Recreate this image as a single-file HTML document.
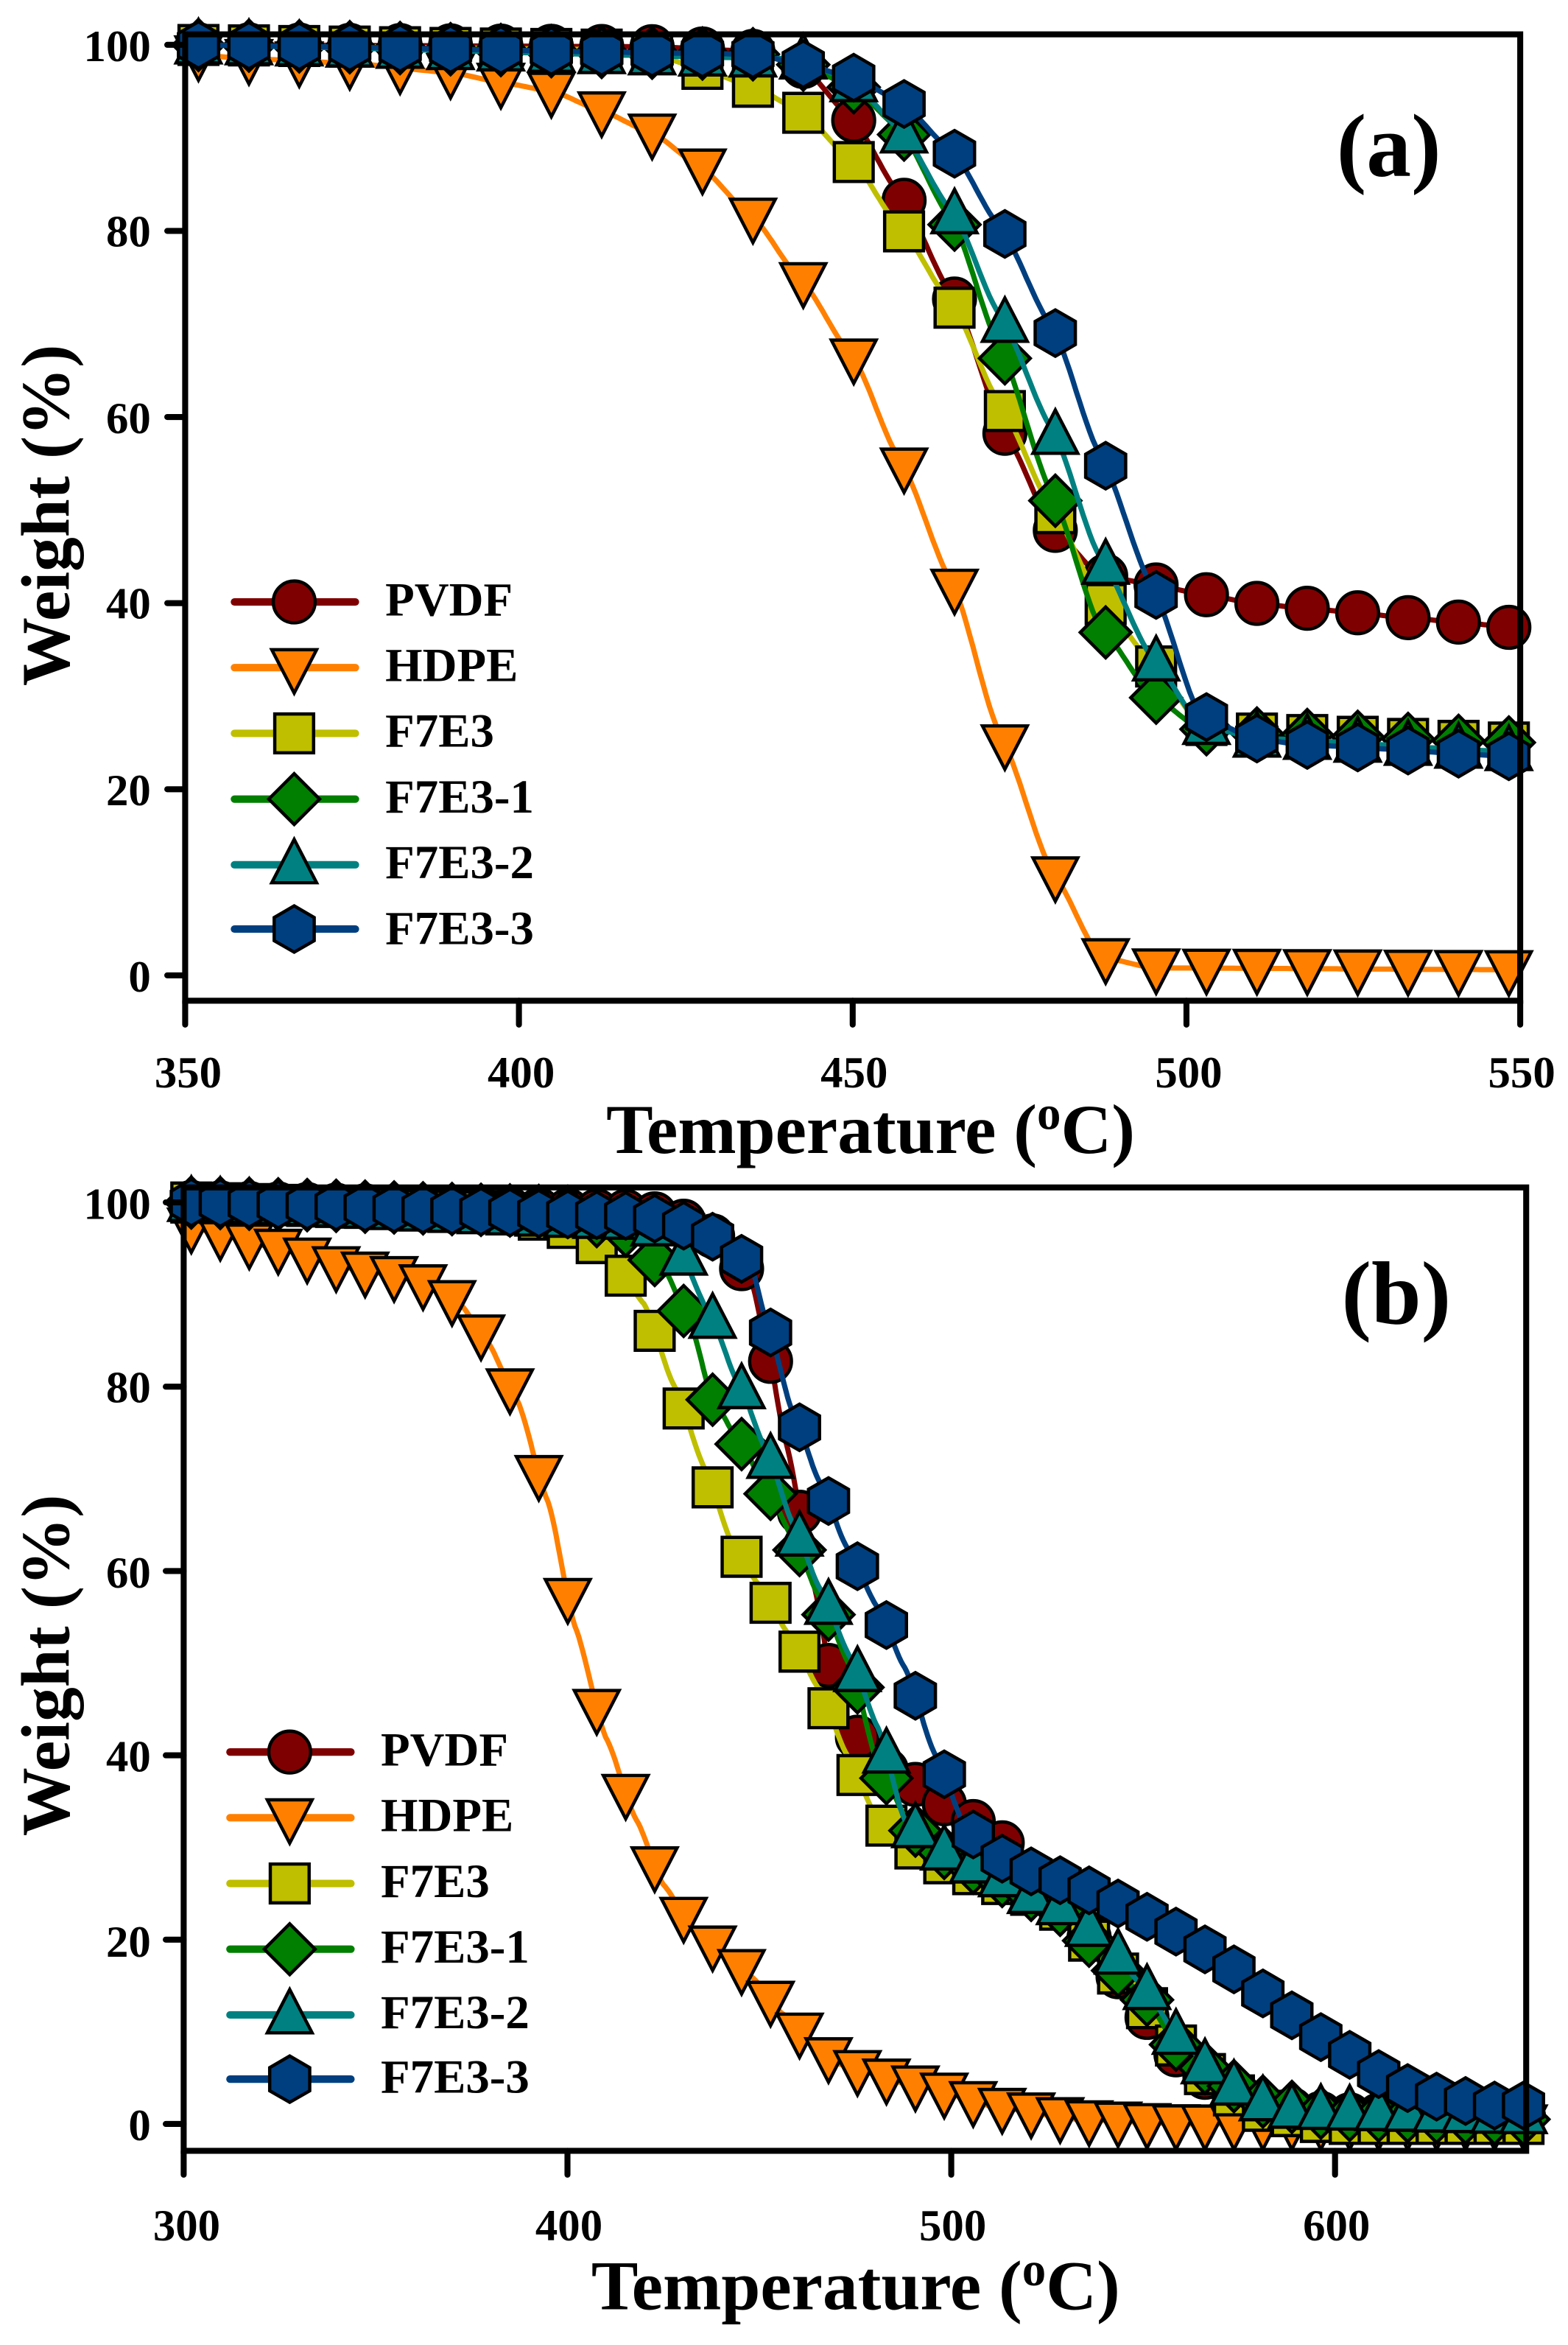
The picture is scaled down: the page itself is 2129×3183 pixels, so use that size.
<!DOCTYPE html>
<html><head><meta charset="utf-8"><style>
html,body{margin:0;padding:0;background:#fff;}
svg{display:block;}
text{font-family:"Liberation Serif",serif;font-weight:bold;fill:#000;}
</style></head><body>
<svg id="s" xmlns="http://www.w3.org/2000/svg" width="2129" height="3183" viewBox="0 0 1050 1570" preserveAspectRatio="none">
<rect width="1050" height="1570" fill="#fff"/>
<g id="ga"></g>
<g id="gb"></g>
<g stroke="#000" stroke-width="4" fill="none" stroke-linecap="round">
<rect x="124" y="23" width="894" height="647"/>
<path d="M124 30h-12M124 154.6h-12M124 279.2h-12M124 403.8h-12M124 528.4h-12M124 653h-12"/>
<path d="M124 670v16M347.5 670v16M571 670v16M794.5 670v16M1018 670v16"/>
<rect x="123" y="795" width="899" height="645"/>
<path d="M123 805h-12M123 928.4h-12M123 1051.8h-12M123 1175.2h-12M123 1298.6h-12M123 1422h-12"/>
<path d="M123 1440v16M380 1440v16M637 1440v16M894 1440v16"/>
</g>
<g font-size="30" text-anchor="end">
<text x="101" y="41">100</text><text x="101" y="165">80</text><text x="101" y="290">60</text><text x="101" y="414">40</text><text x="101" y="539">20</text><text x="101" y="664">0</text>
<text x="101" y="816">100</text><text x="101" y="939">80</text><text x="101" y="1063">60</text><text x="101" y="1186">40</text><text x="101" y="1310">20</text><text x="101" y="1433">0</text>
</g>
<g font-size="30" text-anchor="middle">
<text x="126" y="728">350</text><text x="349" y="728">400</text><text x="572" y="728">450</text><text x="796" y="728">500</text><text x="1019" y="728">550</text>
<text x="125" y="1500">300</text><text x="381" y="1500">400</text><text x="638" y="1500">500</text><text x="895" y="1500">600</text>
</g>
<text x="583" y="772" font-size="47" text-anchor="middle">Temperature (<tspan font-size="32" dy="-16">o</tspan><tspan dy="16">C)</tspan></text>
<text x="573" y="1546" font-size="47" text-anchor="middle">Temperature (<tspan font-size="32" dy="-16">o</tspan><tspan dy="16">C)</tspan></text>
<text transform="translate(46,345) rotate(-90)" font-size="46" text-anchor="middle">Weight (%)</text>
<text transform="translate(46,1115) rotate(-90)" font-size="46" text-anchor="middle">Weight (%)</text>
<text x="930" y="118" font-size="60" text-anchor="middle">(a)</text>
<text x="935" y="886" font-size="60" text-anchor="middle">(b)</text>
<g id="leg"></g>
<g font-size="32">
<text x="258" y="412">PVDF</text><text x="258" y="456">HDPE</text><text x="258" y="500">F7E3</text><text x="258" y="544">F7E3-1</text><text x="258" y="588">F7E3-2</text><text x="258" y="632">F7E3-3</text>
<text x="255" y="1182">PVDF</text><text x="255" y="1226">HDPE</text><text x="255" y="1270">F7E3</text><text x="255" y="1314">F7E3-1</text><text x="255" y="1358">F7E3-2</text><text x="255" y="1401">F7E3-3</text>
</g>
</svg>
<script>
var NS="http://www.w3.org/2000/svg";
var cols=[["#7F0000","circle"],["#FF8000","tdown"],["#BFBF00","square"],["#007F00","diamond"],["#008080","tup"],["#003F7F","hex"]];
function mk(tag,attrs,parent){var e=document.createElementNS(NS,tag);for(var k in attrs)e.setAttribute(k,attrs[k]);parent.appendChild(e);return e;}
function marker(g,shape,x,y,fill){
 var a={fill:fill,stroke:"#000","stroke-width":2.2,"stroke-linejoin":"miter"};
 if(shape=="circle"){a.cx=x;a.cy=y;a.r=14;mk("circle",a,g);return;}
 var p;
 if(shape=="square")p=[[-13,-13],[13,-13],[13,13],[-13,13]];
 else if(shape=="tdown")p=[[-15,-12],[15,-12],[0,17]];
 else if(shape=="tup")p=[[-15,12],[15,12],[0,-17]];
 else if(shape=="diamond")p=[[0,-17],[17,0],[0,17],[-17,0]];
 else {p=[];for(var i=0;i<6;i++){var t=Math.PI/3*i-Math.PI/2;p.push([15.5*Math.cos(t),15.5*Math.sin(t)]);}}
 a.points=p.map(function(q){return (x+q[0]).toFixed(1)+","+(y+q[1]).toFixed(1);}).join(" ");
 mk("polygon",a,g);
}
function interp(k,T){if(T<=k[0][0])return k[0][1];for(var i=1;i<k.length;i++){if(T<=k[i][0]){var a=k[i-1],b=k[i];var u=(T-a[0])/(b[0]-a[0]);u=u*u*(3-2*u)*0.35+u*0.65;return a[1]+(b[1]-a[1])*u;}}return k[k.length-1][1];}
function P(s){return s.trim().split(/\s*,\s*/).map(function(t){var q=t.split(":");return [+q[0],+q[1]];});}
var A=[
P("352:100,420:99.8,435:99.3,442:98,450:92,457:84,465:73,473:58,480:48,487:43,495:42,502:41,510:40,517:39.5,525:39,532:38.5,540:38,550:37.3"),
P("350:99,360:98.5,375:98,390:97,397:96,405:95,412:93,420:90.5,427:87,435:81.5,442:75,450:66.5,457:55.5,465:42,472:26,480:11,487:2,495:0.8,550:0.6"),
P("350:100,412:99.5,420:99,427:97.5,435:95.5,442:93,450:87.5,457:80.5,465:72,472:61.5,480:50,487:40.5,495:33.5,502:27,510:26,550:25"),
P("350:100,435:99,442:98,450:95.5,457:91,465:81,472:67.5,480:51.5,487:37.5,495:30,502:26.5,510:26,550:25"),
P("350:100,442:98.5,450:96,457:91,465:82,472:71,480:58.5,487:45,495:34,502:27,510:25.5,550:24"),
P("350:100,435:99,442:98,450:96.5,457:94,465:88.5,472:80.5,480:69.5,487:56,495:41.5,502:28,510:25.5,517:24.8,550:23.5")];
var B=[
P("300:100,420:99,430:98,440:96,448:91.5,452:84.5,457:74,464:59,470:46,480:39,490:37,497:35,505:33,512:31,520:27.5,530:24,540:18,550:12,560:7,570:4,580:2,600:1,650:0.8"),
P("300:97.5,310:96.5,318:95.5,325:95,333:94,341:93,348:92.5,356:92,364:91,372:89,379:85,387:78.5,395:67.5,402:54,410:42,418:33,425:26,433:21,441:18.5,448:16,456:12,464:8.5,471:6.5,479:5.5,487:4.5,494:4,502:3,510:2,518:1.5,525:1,533:0.5,560:0,650:0"),
P("300:100,380:99,395:98,405:96.5,412:94,420:89,428:80,436:71,443:63,450:58.5,458:53,466:47,473:40,481:33,490:30,500:28,510:26.5,520:25,530:23,540:18,550:13,560:8,570:4,580:1.5,600:0,650:0"),
P("300:100,400:99,415:97,425:93,432:87,438:78.5,445:74,452:69,459:63.5,466:57,474:49.5,481:39,490:32,500:29,510:27,520:25,530:23,540:18,550:14,560:8,570:5,580:2.5,600:1,650:0.5"),
P("300:100,420:98,428:96,437:88,445:80,452:73,459:65,466:58,474:50.5,481:43,488:33,496:30,504:28.5,512:27,520:25,530:23.5,540:20,550:15,560:9,570:5,580:2.5,590:1.5,650:1"),
P("300:100,420:98.5,430:97.5,440:96,448:93,452:87,459:77,466:69.5,473:62.5,481:56,488:49.5,496:40,504:32,512:29,520:27.5,528:26.5,535:25.5,543:24,551:22.5,558:21,566:19,573:17,580:14.5,588:12,596:9.5,604:7.5,611:5.5,618:4,626:3,634:2.5,641:2,650:2")];
function panel(g,data,t0,t1,x0,x1,y100,y0,ms,me,step){
 function X(t){return x0+(t-t0)/(t1-t0)*(x1-x0);} function Y(w){return y0+(y100-y0)*w/100;}
 for(var s=0;s<6;s++){
  var pts=[];for(var t=t0;t<=t1+0.01;t+=0.5)pts.push(X(t).toFixed(1)+","+Y(interp(data[s],t)).toFixed(1));
  mk("polyline",{points:pts.join(" "),fill:"none",stroke:cols[s][0],"stroke-width":3.5},g);
  for(var t=ms;t<=me+0.01;t+=step)marker(g,cols[s][1],X(t),Y(interp(data[s],t)),cols[s][0]);
 }
}
panel(document.getElementById("ga"),A,350,550,124,1018,30,653,352,549,7.55);
panel(document.getElementById("gb"),B,300,650,123,1022,805,1422,302,650,7.55);
var L=document.getElementById("leg");
var ly=[403,447,491,535,579,622],ly2=[1173,1217,1261,1305,1349,1392];
for(var i=0;i<6;i++){
 mk("line",{x1:157,y1:ly[i],x2:238,y2:ly[i],stroke:cols[i][0],"stroke-width":5,"stroke-linecap":"round"},L);
 marker(L,cols[i][1],197,ly[i],cols[i][0]);
 mk("line",{x1:154,y1:ly2[i],x2:235,y2:ly2[i],stroke:cols[i][0],"stroke-width":5,"stroke-linecap":"round"},L);
 marker(L,cols[i][1],194,ly2[i],cols[i][0]);
}
</script>
</body></html>
